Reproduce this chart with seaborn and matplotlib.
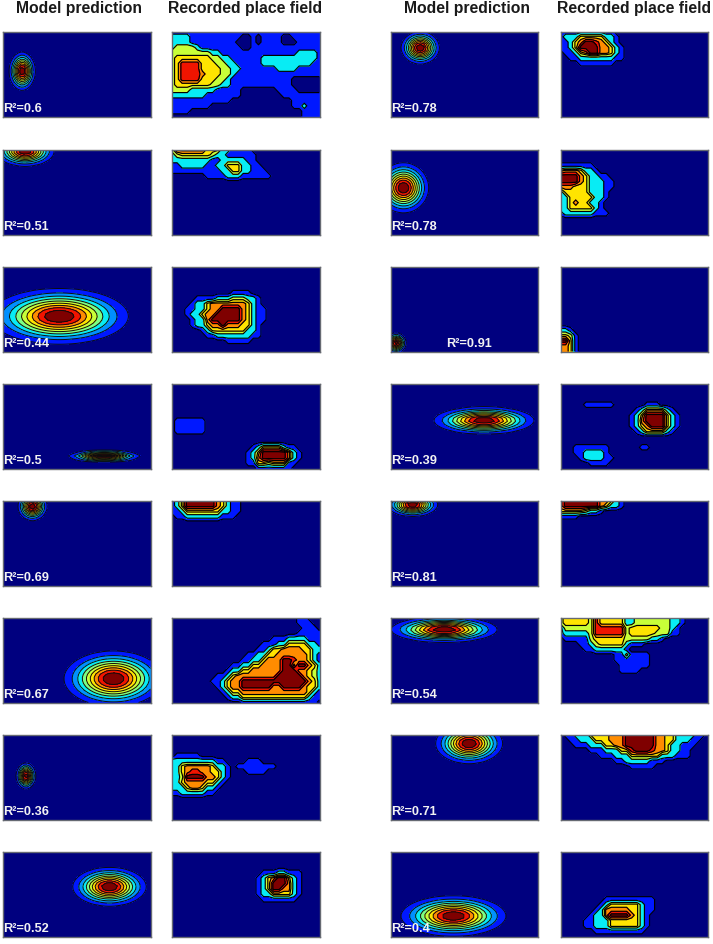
import numpy as np
import matplotlib
matplotlib.use("Agg")
import matplotlib.pyplot as plt
import seaborn as sns

sns.set_theme(style="white")
plt.rcParams["font.family"] = ["Liberation Sans", "DejaVu Sans"]

COLUMN_TITLES = ["Model prediction", "Recorded place field"]

# R² per panel, left pair of columns then right pair of columns
R2_LEFT = ["0.6", "0.51", "0.44", "0.5", "0.69", "0.67", "0.36", "0.52"]
R2_RIGHT = ["0.78", "0.78", "0.91", "0.39", "0.81", "0.54", "0.71", "0.4"]

# Fitted fields: centre (x, y) and outer-contour half extents (x, y), as panel fractions
MODEL_CX_LEFT = [0.13, 0.15, 0.382, 0.686, 0.20, 0.749, 0.156, 0.722]
MODEL_CY_LEFT = [0.467, 0.02, 0.586, 0.855, 0.07, 0.72, 0.488, 0.415]
MODEL_RX_LEFT = [0.088, 0.197, 0.468, 0.243, 0.098, 0.335, 0.065, 0.249]
MODEL_RY_LEFT = [0.224, 0.176, 0.327, 0.067, 0.165, 0.325, 0.153, 0.227]

MODEL_CX_RIGHT = [0.202, 0.088, 0.038, 0.634, 0.15, 0.364, 0.533, 0.427]
MODEL_CY_RIGHT = [0.192, 0.451, 0.90, 0.435, 0.05, 0.142, 0.106, 0.759]
MODEL_RX_RIGHT = [0.129, 0.17, 0.068, 0.34, 0.17, 0.36, 0.227, 0.356]
MODEL_RY_RIGHT = [0.19, 0.294, 0.118, 0.16, 0.137, 0.15, 0.236, 0.237]

# Recorded rate maps on a 30 x 17 grid: row -> (first column, rate level per cell)
FIELD_A = {
    0: (0, "111111111111111111111111111111"),
    1: (0, "333311111111110010111100111111"),
    2: (0, "333311111111100010111100011111"),
    3: (0, "355553111111110011111111111111"),
    4: (0, "555555553311111111111111133331"),
    5: (0, "566666665533111111333333333331"),
    6: (0, "568888666553311111333333333311"),
    7: (0, "568888666655331111111333311111"),
    8: (0, "568888766655311111111111111111"),
    9: (0, "568888666553111111111111000000"),
    10: (0, "566666665533111111111111000000"),
    11: (0, "555533333111110000000111100000"),
    12: (0, "333333311111110000000011111111"),
    13: (0, "111111111111000000000000111111"),
    14: (0, "111111110000000000000000113111"),
    15: (0, "111100000000000000000000001111"),
    16: (0, "000000000000000000000000001111"),
}
FIELD_B = {
    0: (0, "5888888666331111"),
    1: (0, "35666666533111111"),
    2: (0, "33333333113333311"),
    3: (0, "113333311336663311"),
    4: (0, "1111111111336633111"),
    5: (0, "00000001111333111111"),
}
FIELD_C = {
    5: (12, "1111"),
    6: (5, "1111333555331"),
    7: (4, "13367777777631"),
    8: (3, "1133677999976311"),
    9: (3, "1336779999976311"),
    10: (4, "133799999976311"),
    11: (4, "13367797776631"),
    12: (6, "136666666331"),
    13: (7, "11333333311"),
    14: (11, "11111"),
}
FIELD_D = {
    7: (1, "111111"),
    8: (1, "111111"),
    9: (1, "111111"),
    12: (16, "136666311"),
    13: (15, "13699999731"),
    14: (15, "13799999731"),
    15: (15, "1166566611"),
    16: (17, "1111111"),
}
FIELD_E = {
    0: (0, "13699999976311"),
    1: (0, "13699999976311"),
    2: (0, "11366666663311"),
    3: (0, "0113333333111"),
}
FIELD_F = {
    0: (25, "11"),
    1: (25, "111"),
    2: (26, "111"),
    3: (25, "11111"),
    4: (20, "1113333111"),
    5: (18, "111336666331"),
    6: (17, "1136677776633"),
    7: (15, "113366777777631"),
    8: (14, "1133677799877631"),
    9: (12, "1133667777996997633"),
    10: (11, "1336677777799977653"),
    11: (9, "113677777777999997653"),
    12: (8, "1136779999999999999763"),
    13: (9, "136779999997799997663"),
    14: (10, "13667777777777777631"),
    15: (11, "1336666666666666311"),
    16: (14, "111111111111111"),
}
FIELD_G = {
    4: (1, "11111"),
    5: (0, "33333333311000011100"),
    6: (0, "336777776331011111111"),
    7: (0, "3367887766310001111"),
    8: (0, "335999977631"),
    9: (0, "33677776631"),
    10: (0, "3336776331"),
    11: (0, "113333311"),
}
FIELD_H = {
    4: (18, "11133111"),
    5: (17, "136799631"),
    6: (17, "136999731"),
    7: (17, "136997731"),
    8: (17, "133666631"),
    9: (18, "1111111"),
}
FIELD_I = {
    0: (0, "01111111111"),
    1: (0, "133366666331"),
    2: (0, "113679987631"),
    3: (0, "1136999977631"),
    4: (0, "0113679977631"),
    5: (0, "0011333333311"),
    6: (4, "1111111"),
}
FIELD_J = {
    3: (0, "1111111"),
    4: (0, "67776331"),
    5: (0, "9999763311"),
    6: (0, "99997633311"),
    7: (0, "77766633311"),
    8: (0, "3666663331"),
    9: (0, "3366666331"),
    10: (0, "336766331"),
    11: (0, "336666631"),
    12: (0, "1333333111"),
}
FIELD_K = {
    12: (0, "331"),
    13: (0, "6651"),
    14: (0, "9961"),
    15: (0, "7761"),
    16: (0, "7761"),
}
FIELD_L = {
    4: (5, "111111000000111"),
    5: (15, "13666631"),
    6: (14, "1369999631"),
    7: (14, "1379999631"),
    8: (14, "1367999631"),
    9: (15, "13666631"),
    12: (0, "000111111100000011"),
    13: (3, "1133331"),
    14: (4, "1333311"),
    15: (6, "1111"),
}
FIELD_M = {
    0: (0, "7999999977631"),
    1: (0, "7999999976331"),
    2: (0, "666665331"),
    3: (0, "1111"),
}
FIELD_N = {
    0: (0, "5666665866666335555555331"),
    1: (0, "5666665866666335555555331"),
    2: (0, "155555588888856666665531"),
    3: (0, "133333588888856666655511"),
    4: (0, "011111566666655555331"),
    5: (0, "00001135666663111"),
    6: (0, "00000113333331"),
    7: (11, "1151111"),
    8: (11, "1111111"),
    9: (12, "111111"),
    10: (12, "1111"),
}
FIELD_O = {
    0: (0, "01133366667779999997766333311"),
    1: (0, "0011333666777999999776633311"),
    2: (0, "000111333667799999977633111"),
    3: (0, "00000011133366899987763311"),
    4: (8, "111333666666333111"),
    5: (11, "1133333111"),
    6: (14, "11111"),
}
FIELD_P = {
    9: (9, "1111111111"),
    10: (8, "13666666311"),
    11: (7, "137777766311"),
    12: (6, "133799997631"),
    13: (5, "1133366666631"),
    14: (5, "1133366666631"),
    15: (7, "1111111111"),
}

RECORDED_LEFT = [FIELD_A, FIELD_B, FIELD_C, FIELD_D, FIELD_E, FIELD_F, FIELD_G, FIELD_H]
RECORDED_RIGHT = [FIELD_I, FIELD_J, FIELD_K, FIELD_L, FIELD_M, FIELD_N, FIELD_O, FIELD_P]

GRID_COLS, GRID_ROWS = 30, 17
PALETTE = sns.color_palette(["#00007f", "#0018ff", "#0090ff", "#08ecf4", "#7cff84",
                             "#c8ff38", "#ffe400", "#ff8c00", "#f01400", "#7f0000"])
# Recorded maps use a reduced set of bands
RECORDED_BOUNDS = [-0.5, 0.5, 2, 4, 5.5, 6.5, 7.5, 8.5, 9.5]
RECORDED_BANDS = [PALETTE[i] for i in (0, 1, 3, 5, 6, 7, 8, 9)]
FRAME = "#666a72"
W, H = 713, 945

# Panel boxes in figure pixels
COL_LEFT = [3, 172, 390.5, 560.5]
COL_WIDTH = 147.5
ROW_TOP = [32.5, 150.5, 267.5, 384.5, 501.5, 618.5, 735.5, 852.5]
ROW_HEIGHT = 85
TITLE_X = [79, 245.5, 467, 634]


def panel(col, row):
    box = [COL_LEFT[col] / W, 1 - (ROW_TOP[row] + ROW_HEIGHT) / H,
           COL_WIDTH / W, ROW_HEIGHT / H]
    ax = fig.add_axes(box)
    ax.set_xlim(0, 1)
    ax.set_ylim(1, 0)
    ax.set_xticks([])
    ax.set_yticks([])
    ax.set_facecolor(PALETTE[0])
    for spine in ax.spines.values():
        spine.set_color(FRAME)
        spine.set_linewidth(1.0)
    return ax


def draw_model(ax, cx, cy, rx, ry):
    # A coarse evaluation grid gives the contours their faceted outline
    x = np.linspace(0, 1, 50)
    y = np.linspace(0, 1, 28)
    xx, yy = np.meshgrid(x, y)
    z = np.exp(-np.log(10) * (((xx - cx) / rx) ** 2 + ((yy - cy) / ry) ** 2))
    fill = np.linspace(0, 1, 11)
    fill[-1] = 1.01
    ax.contourf(x, y, z, levels=fill, colors=PALETTE)
    ax.contour(x, y, z, levels=fill[1:-1], colors="#0c0c0c", linewidths=0.7)


def draw_recorded(ax, field):
    z = np.zeros((GRID_ROWS, GRID_COLS))
    for row, (start, digits) in field.items():
        cells = [int(d) for d in digits][:GRID_COLS - start]
        z[row, start:start + len(cells)] = cells
    x = np.linspace(0, 1, GRID_COLS)
    y = np.linspace(0, 1, GRID_ROWS)
    ax.contourf(x, y, z, levels=RECORDED_BOUNDS, colors=RECORDED_BANDS)
    ax.contour(x, y, z, levels=RECORDED_BOUNDS[1:-1], colors="black", linewidths=0.85)


fig = plt.figure(figsize=(W / 100, H / 100), dpi=100, facecolor="white")

pairs = [
    (0, R2_LEFT, MODEL_CX_LEFT, MODEL_CY_LEFT, MODEL_RX_LEFT, MODEL_RY_LEFT, RECORDED_LEFT),
    (2, R2_RIGHT, MODEL_CX_RIGHT, MODEL_CY_RIGHT, MODEL_RX_RIGHT, MODEL_RY_RIGHT, RECORDED_RIGHT),
]
for col, r2, cxs, cys, rxs, rys, fields in pairs:
    for row in range(8):
        ax = panel(col, row)
        draw_model(ax, cxs[row], cys[row], rxs[row], rys[row])
        # One label sits beside the field instead of in the corner
        label_x = 0.375 if (col == 2 and row == 2) else 0.004
        ax.text(label_x, 0.905, f"R²={r2[row]}", color="#f2f2f2", fontsize=9.2,
                fontweight="bold", ha="left", va="center", zorder=5)
        draw_recorded(panel(col + 1, row), fields[row])

for i, x in enumerate(TITLE_X):
    fig.text(x / W, 1 - 9 / H, COLUMN_TITLES[i % 2], fontsize=11.3, fontweight="bold",
             color="#1a1a1a", ha="center", va="center")

fig.savefig("out.png", dpi=100)
